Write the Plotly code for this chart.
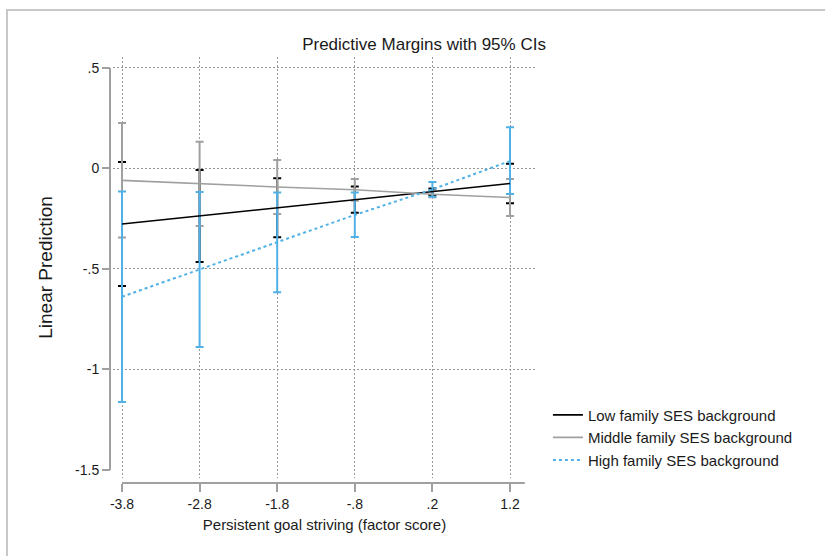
import plotly.graph_objects as go

# predictive margins and 95% CIs
x_vals = [-3.8, -2.8, -1.8, -0.8, 0.2, 1.2]
x_labels = ["-3.8", "-2.8", "-1.8", "-.8", ".2", "1.2"]
y_ticks = [0.5, 0, -0.5, -1, -1.5]
y_labels = [".5", "0", "-.5", "-1", "-1.5"]

low_margin = [-0.276, -0.236, -0.196, -0.156, -0.116, -0.075]
low_lower = [-0.585, -0.465, -0.342, -0.220, -0.133, -0.173]
low_upper = [0.032, -0.007, -0.049, -0.090, -0.100, 0.024]

mid_margin = [-0.059, -0.076, -0.092, -0.106, -0.128, -0.144]
mid_lower = [-0.344, -0.286, -0.226, -0.160, -0.143, -0.236]
mid_upper = [0.226, 0.133, 0.042, -0.052, -0.112, -0.052]

high_margin = [-0.638, -0.502, -0.368, -0.231, -0.104, 0.037]
high_lower = [-1.162, -0.888, -0.616, -0.341, -0.141, -0.127]
high_upper = [-0.115, -0.117, -0.120, -0.120, -0.067, 0.205]

groups = [
    ("Low family SES background", low_margin, low_lower, low_upper, "#000000", "solid", 1.6),
    ("Middle family SES background", mid_margin, mid_lower, mid_upper, "#a0a0a0", "solid", 1.6),
    ("High family SES background", high_margin, high_lower, high_upper, "#4fb1e6", "dot", 2),
]

FONT = "Liberation Sans, Arial, Helvetica, sans-serif"
AXIS_GREY = "#a0a0a0"
GRID_GREY = "#999999"

fig = go.Figure()

# confidence intervals (caps) first
for name, m, lo, hi, col, dash, w in groups:
    fig.add_trace(go.Scatter(
        x=x_vals, y=m, mode="markers",
        marker=dict(size=1, opacity=0),
        error_y=dict(type="data", symmetric=False,
                     array=[h - c for h, c in zip(hi, m)],
                     arrayminus=[c - l for c, l in zip(m, lo)],
                     color=col, thickness=2, width=4),
        showlegend=False, hoverinfo="skip",
    ))

# margin lines
for i, (name, m, lo, hi, col, dash, w) in enumerate(groups):
    fig.add_trace(go.Scatter(
        x=x_vals, y=m, mode="lines", name=name,
        line=dict(color=col, width=w, dash=dash),
        legendgroup=f"g{i}",
    ))

# secondary y axis only for grid lines (no grid at -1.5)
fig.add_trace(go.Scatter(x=[x_vals[0]], y=[0], yaxis="y2", mode="markers",
                         marker=dict(opacity=0), showlegend=False, hoverinfo="skip"))

y_range = [-1.540, 0.5547]

fig.update_layout(
    width=825, height=556,
    margin=dict(l=110, r=289, t=57, b=73),
    paper_bgcolor="white", plot_bgcolor="white",
    font=dict(family=FONT, size=14, color="#1a1a1a"),
    title=dict(text="Predictive Margins with 95% CIs", x=0.514, xanchor="center",
               y=1 - 44 / 556, yanchor="middle", yref="container",
               font=dict(size=17, color="#1a1a1a")),
    xaxis=dict(domain=[3 / 426, 1], range=[-3.916, 1.535], anchor="free", position=0,
               tickvals=x_vals, ticktext=x_labels, ticks="outside", ticklen=8,
               tickwidth=2, tickcolor=AXIS_GREY, showline=False, zeroline=False,
               showgrid=True, gridcolor=GRID_GREY, gridwidth=1, griddash="2px,2px",
               title=dict(text="Persistent goal striving (factor score)",
                          font=dict(size=15), standoff=8)),
    yaxis=dict(domain=[5 / 426, 1], range=y_range, anchor="free", position=0,
               tickvals=y_ticks, ticktext=y_labels, ticks="outside", ticklen=8,
               tickwidth=2, tickcolor=AXIS_GREY, showline=False, zeroline=False,
               showgrid=False,
               title=dict(text="Linear Prediction", font=dict(size=19), standoff=16)),
    yaxis2=dict(domain=[5 / 426, 1], range=y_range, overlaying="y", anchor="free",
                position=0, tickvals=y_ticks[:-1], showticklabels=False, ticks="",
                showgrid=True, gridcolor=GRID_GREY, gridwidth=1, griddash="2px,2px",
                zeroline=False, showline=False),
    legend=dict(x=1.028, xanchor="left", y=0.198, yanchor="top",
                font=dict(size=15, color="#1a1a1a"), traceorder="grouped",
                tracegroupgap=0, bgcolor="rgba(0,0,0,0)"),
    shapes=[
        # y axis line from -1.5 to .5
        dict(type="line", xref="paper", yref="y", x0=0, x1=0, y0=-1.5, y1=0.5,
             line=dict(color=AXIS_GREY, width=2)),
        # x axis line
        dict(type="line", xref="x", yref="paper", x0=-3.8, x1=1.39, y0=0, y1=0,
             line=dict(color=AXIS_GREY, width=2)),
        # outer graph border (partly visible)
        dict(type="rect", xref="paper", yref="paper", x0=-0.2418, x1=1.9,
             y0=-0.5, y1=1.1103, line=dict(color="#c8c8c8", width=2),
             layer="below"),
    ],
)

# drop the default page margin so the figure sits at the window corner
fig.write_html("out.html", config={"displayModeBar": False},
               post_script="document.body.style.margin='0';")
